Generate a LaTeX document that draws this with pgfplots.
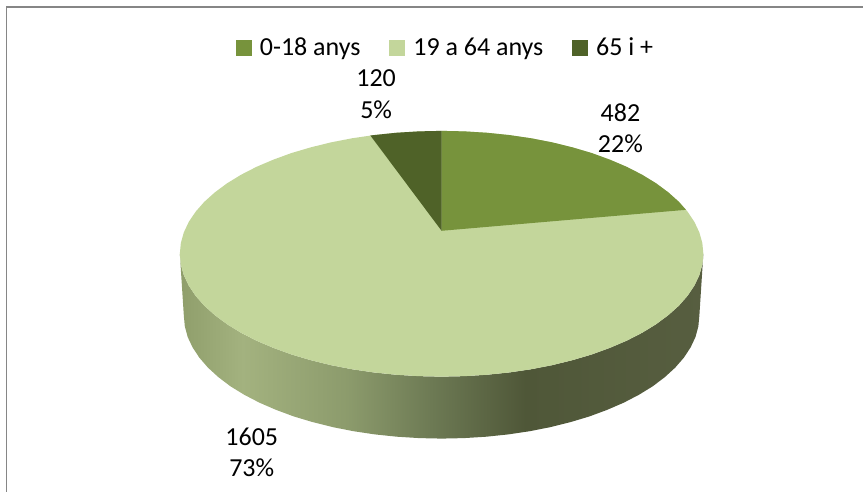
\documentclass[border=0pt]{standalone}
\usepackage{pgfplots}
\pgfplotsset{compat=1.18}
\usepackage{fontspec}
\setmainfont{Carlito}
\definecolor{slicea}{HTML}{77933C}
\definecolor{sliceb}{HTML}{C3D69B}
\definecolor{slicec}{HTML}{4F6228}
\definecolor{frame}{HTML}{868686}
\definecolor{sa}{HTML}{8F9E6B}
\definecolor{sb}{HTML}{A3B27F}
\definecolor{sc}{HTML}{8C9B6C}
\definecolor{sd}{HTML}{6D7A54}
\definecolor{se}{HTML}{4F5738}
\definecolor{sf}{HTML}{575E40}
% side of the pie, left to right (25bp..75bp is the width of the path)
\pgfdeclarehorizontalshading{pieside}{100bp}{
  color(0bp)=(sa);
  color(25bp)=(sa);
  color(31bp)=(sb);
  color(41bp)=(sc);
  color(49bp)=(sd);
  color(58bp)=(se);
  color(75bp)=(sf);
  color(100bp)=(sf)}
\newcommand{\lbl}{\fontsize{26}{32}\selectfont}
\begin{document}
\begin{tikzpicture}
\begin{axis}[
  scale only axis,
  width=864pt, height=492pt,
  xmin=0, xmax=864,
  ymin=0, ymax=492,
  y dir=reverse,
  hide axis,
  clip=false,
  legend style={
    at={(axis cs:446,47.5)}, anchor=center,
    draw=none, fill=none,
    font=\fontsize{26}{28}\selectfont,
    legend columns=3,
    /tikz/every odd column/.append style={column sep=6.5pt},
    /tikz/every even column/.append style={column sep=27pt},
    inner sep=0pt,
  },
  legend image code/.code={
    \fill[#1] (0pt,-7.5pt) rectangle (15pt,7.5pt);
  },
]
% keeps the page at the full size of the axis
\addplot[draw=none, forget plot] coordinates {(0,0) (864,492)};
% frame of the chart area, only top and left are in the picture
\addplot[frame, line width=1.6pt, forget plot] coordinates {
  (6.5,492) (6.5,7) (864,7)
};
% rim of the big slice
\addplot[draw=none, shading=pieside, forget plot] coordinates {
  (704,254) (703,264.7) (700,275.4) (695.1,285.8) (688.2,296.1) (679.5,306)
  (668.9,315.5) (656.6,324.6) (642.7,333.1) (627.3,341) (610.4,348.2)
  (592.3,354.8) (573,360.5) (552.7,365.5) (531.6,369.6) (509.8,372.8)
  (487.5,375.1) (464.8,376.5) (442,377) (419.2,376.5) (396.5,375.1)
  (374.2,372.8) (352.4,369.6) (331.3,365.5) (311,360.5) (291.7,354.8)
  (273.6,348.2) (256.7,341) (241.3,333.1) (227.4,324.6) (215.1,315.5)
  (204.5,306) (195.8,296.1) (188.9,285.8) (184,275.4) (181,264.7) (180,254)
  (184,316) (185,326.7) (187.9,337.4) (192.8,347.8) (199.6,358.1) (208.2,368)
  (218.6,377.5) (230.6,386.6) (244.4,395.1) (259.6,403) (276.2,410.2)
  (294,416.8) (313,422.5) (333,427.5) (353.8,431.6) (375.2,434.8) (397.2,437.1)
  (419.5,438.5) (442,439) (464.5,438.5) (486.8,437.1) (508.8,434.8) (530.2,431.6)
  (551,427.5) (571,422.5) (590,416.8) (607.8,410.2) (624.4,403) (639.6,395.1)
  (653.4,386.6) (665.4,377.5) (675.8,368) (684.4,358.1) (691.2,347.8) (696.1,337.4)
  (699,326.7) (700,316)
} -- cycle;
% 19 a 64 anys, whole top
\addplot[fill=sliceb, draw=none, forget plot] coordinates {
  (442,131) (464.8,131.5) (487.5,132.9) (509.8,135.2) (531.6,138.4) (552.7,142.5)
  (573,147.5) (592.3,153.2) (610.4,159.8) (627.3,167) (642.7,174.9) (656.6,183.4)
  (668.9,192.5) (679.5,202) (688.2,211.9) (695.1,222.2) (700,232.6) (703,243.3)
  (704,254) (703,264.7) (700,275.4) (695.1,285.8) (688.2,296.1) (679.5,306)
  (668.9,315.5) (656.6,324.6) (642.7,333.1) (627.3,341) (610.4,348.2)
  (592.3,354.8) (573,360.5) (552.7,365.5) (531.6,369.6) (509.8,372.8)
  (487.5,375.1) (464.8,376.5) (442,377) (419.2,376.5) (396.5,375.1)
  (374.2,372.8) (352.4,369.6) (331.3,365.5) (311,360.5) (291.7,354.8)
  (273.6,348.2) (256.7,341) (241.3,333.1) (227.4,324.6) (215.1,315.5)
  (204.5,306) (195.8,296.1) (188.9,285.8) (184,275.4) (181,264.7) (180,254)
  (181,243.3) (184,232.6) (188.9,222.2) (195.8,211.9) (204.5,202) (215.1,192.5)
  (227.4,183.4) (241.3,174.9) (256.7,167) (273.6,159.8) (291.7,153.2) (311,147.5)
  (331.3,142.5) (352.4,138.4) (374.2,135.2) (396.5,132.9) (419.2,131.5)
} -- cycle;
% 0-18 anys
\addplot[fill=slicea, draw=none, forget plot] coordinates {
  (442,231) (442,131) (464.8,131.5) (487.5,132.9) (509.8,135.2) (531.6,138.4)
  (552.7,142.5) (573,147.5) (592.3,153.2) (610.4,159.8) (627.3,167) (642.7,174.9)
  (656.6,183.4) (668.9,192.5) (679.5,202) (686.6,210)
} -- cycle;
% 65 i +
\addplot[fill=slicec, draw=none, forget plot] coordinates {
  (442,231) (370.7,135.6) (396.5,132.9) (419.2,131.5) (442,131)
} -- cycle;
\addlegendimage{slicea}
\addlegendentry{0-18 anys}
\addlegendimage{sliceb}
\addlegendentry{19 a 64 anys}
\addlegendimage{slicec}
\addlegendentry{65 i +}
\node[anchor=base, font=\lbl] at (axis cs:621,121.5) {482};
\node[anchor=base, font=\lbl] at (axis cs:621,153) {22\%};
\node[anchor=base, font=\lbl] at (axis cs:376.5,87) {120};
\node[anchor=base, font=\lbl] at (axis cs:376.5,118.5) {5\%};
\node[anchor=base, font=\lbl] at (axis cs:252,445.5) {1605};
\node[anchor=base, font=\lbl] at (axis cs:252,477) {73\%};
\end{axis}
\end{tikzpicture}
\end{document}
